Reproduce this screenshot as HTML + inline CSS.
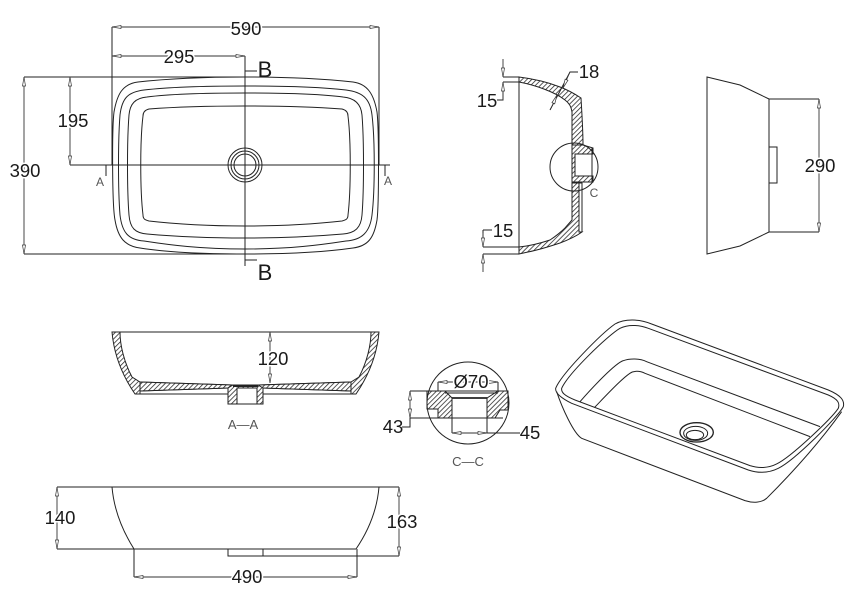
<!DOCTYPE html>
<html><head><meta charset="utf-8"><style>
html,body{margin:0;padding:0;background:#fff;width:860px;height:598px;overflow:hidden}
svg{display:block}
text{font-family:"Liberation Sans",sans-serif;fill:#1a1a1a;text-anchor:middle}
.d{font-size:18.5px}
.g{font-size:12px;fill:#555}
.l{fill:none;stroke:#222;stroke-width:1}
.m{fill:none;stroke:#333;stroke-width:.9;marker-start:url(#a);marker-end:url(#a)}
.n{marker-start:none}
.h{fill:url(#hatch);stroke:#222;stroke-width:1}
.w{paint-order:stroke;stroke:#fff;stroke-width:3px}
</style></head><body>
<svg width="860" height="598" viewBox="0 0 860 598" xmlns="http://www.w3.org/2000/svg">
<defs>
<marker id="a" markerUnits="userSpaceOnUse" markerWidth="11" markerHeight="5" refX="10" refY="2.5" orient="auto-start-reverse"><path d="M10 2.5L1 1V4Z" fill="#fff" stroke="#333" stroke-width=".7"/></marker>
<pattern id="hatch" patternUnits="userSpaceOnUse" width="3.4" height="3.4" patternTransform="rotate(45)"><rect width="3.4" height="3.4" fill="#fff"/><line x1="0" y1="0" x2="0" y2="3.4" stroke="#222" stroke-width="1.5"/></pattern>
</defs>

<!-- Top view -->
<g class="l">
<path class="l" d="M245 77C290 77 325 79 353 82C368 84 374 95 377 112C379 128 379 205 377 220C374 238 368 246 353 248C325 252 290 254 245 254C200 254 165 252 140 248C125 246 118 238 115 220C112 205 112 128 114 112C117 95 122 84 138 82C165 79 200 77 245 77Z"/>
<path class="l" d="M245 86C290 86 320 87 346 90C362 92 370 98 372 115C375 140 375 190 372 215C370 232 362 240 346 241C320 245 290 249 245 249C200 249 170 245 144 241C128 240 122 232 120 215C118 190 118 140 120 115C122 98 128 92 144 90C170 87 200 86 245 86Z"/>
<path class="l" d="M245 93C290 93 320 94 343 97C355 98 361 104 362 115C364 140 364 190 362 215C361 228 355 233 343 234C320 236 290 238 245 238C200 238 170 236 147 234C135 233 130 228 129 215C127 190 127 140 129 115C130 104 135 98 147 97C170 94 200 93 245 93Z"/>
<path class="l" d="M245 106C285 106 315 107 342 109C346 110 348 112 348 116C351 140 351 190 348 215C348 219 346 220 342 221C315 224 285 226 245 226C205 226 175 224 149 221C145 220 143 219 143 215C140 190 140 140 143 116C143 112 145 110 149 109C175 107 205 106 245 106Z"/>
<circle cx="245" cy="165" r="17"/><circle cx="245" cy="165" r="14"/><circle cx="245" cy="165" r="11"/>
<path d="M245 56V266M70 165H390M112 27V165M379 27V165M24 77H245M24 254H245M245 71H257M245 260H257M106 165V176M385 165V176"/>
</g>
<path class="m" d="M112 27H379"/>
<path class="m" d="M112 56H245"/>
<path class="m" d="M24 77V254"/>
<path class="m" d="M70 77V165"/>
<text class="d w" x="246" y="35">590</text>
<text class="d w" x="179" y="63">295</text>
<text class="d w" x="73" y="127">195</text>
<text class="d w" x="25" y="177">390</text>
<text x="265" y="77" font-size="22">B</text>
<text x="265" y="280" font-size="22">B</text>
<text class="g" x="100" y="186">A</text>
<text class="g" x="388" y="185">A</text>

<!-- Section B-B -->
<path class="h" d="M519 77C535 79 550 83 560 87C568 90 575 94 581 98C582 115 583 130 583 145H572V112C571 106 569 103 565 100C555 92 535 85 519 82Z"/>
<path class="h" d="M572 183H579V232H582C575 237 568 240 560 243C548 247 538 250 528 252L519 254V247C530 246 541 243 550 240C556 236 561 232 565 228L572 220Z"/>
<path class="l" d="M519 77V254"/>
<path class="l" d="M579 183H582V232"/>
<path class="h" d="M572 145H583L593 148V154H575V176H593V182H572Z"/>
<path class="l" d="M575 154H592V176H575Z"/>
<path class="l" d="M592 148V182"/>
<circle class="l" cx="574" cy="167" r="24"/>
<path class="l" d="M503 77H519M503 82H519M503 82V100H497M483 247H519M483 230V247M483 230H492M483 254H519M578 72H570L550 110"/>
<path class="m n" d="M503 59V77"/>
<path class="m n" d="M503 100V82"/>
<path class="m n" d="M483 233V247"/>
<path class="m n" d="M483 272V254"/>
<path class="m n" d="M569 74L563 88"/>
<path class="m n" d="M553 104L557 95"/>
<text class="d" x="487" y="107">15</text>
<text class="d" x="503" y="237">15</text>
<text class="d" x="589" y="78">18</text>
<text class="g" x="594" y="197">C</text>

<!-- Side view -->
<path class="l" d="M707 77L740 85L769 99V232L740 246L707 254ZM769 147H777V183H769M769 99H819M769 232H819"/>
<path class="m" d="M819 99V232"/>
<text class="d w" x="820" y="172">290</text>

<!-- Section A-A -->
<path class="l" d="M112 332H379"/>
<path class="h" d="M112 332H120C120 345 124 362 132 377L140 382L232 385V388H228L140 391L140 394H135C122 375 114 355 112 332Z"/>
<path class="h" d="M379 332H371C371 345 367 362 359 377L351 382L259 385V388H263L351 391L351 394H356C369 375 377 355 379 332Z"/>
<path class="h" d="M140 382L232 385H259L351 382L351 391L263 388H228L140 391Z"/>
<path class="h" d="M228 388L233 385H258L263 388V404H228Z"/>
<rect x="237" y="388" width="20" height="16" fill="#fff" stroke="#222"/>
<path fill="none" stroke="#222" stroke-width="2" d="M233 386H258"/>
<path class="l" d="M140 394H228M263 394H351"/>
<path class="m" d="M270 332V383"/>
<text class="d w" x="273" y="365">120</text>
<text x="243" y="429" font-size="13" style="fill:#555">A—A</text>

<!-- Detail C-C -->
<path class="h" d="M427 391H445L452 398V418H438V409H427Z"/>
<path class="h" d="M508 391H498L487 398V418H495L500 410H508Z"/>
<circle class="l" cx="468" cy="403" r="41"/>
<path class="l" d="M410 391H508M410 418H503M452 398V433M487 398V433M438 391V382M498 391V382M445 393H498M487 433H520M410 418V427H402"/>
<path fill="none" stroke="#222" stroke-width="1.8" d="M452 398H487"/>
<path class="m" d="M438 382H498"/>
<path class="m" d="M452 433H487"/>
<path class="m" d="M410 391V418"/>
<text class="d w" x="471" y="388">Ø70</text>
<text class="d" x="393" y="433">43</text>
<text class="d" x="530" y="439">45</text>
<text x="468" y="466" font-size="13" style="fill:#555">C—C</text>

<!-- Isometric -->
<g transform="translate(545 310) scale(.3333)" fill="none" stroke="#222" stroke-width="3">
<path d="M32 235C50 190 170 70 210 42C240 25 285 27 320 42L850 240C885 255 900 270 895 290C880 320 750 450 700 475C670 490 640 490 610 480L80 280C50 265 30 250 32 235Z"/>
<path d="M50 235C70 190 190 75 225 55C250 42 285 45 310 55L850 255C880 268 885 280 880 295C860 325 740 440 695 462C670 475 640 475 615 467L90 270C60 258 48 248 50 235Z"/>
<path d="M105 275C140 235 210 160 235 152C255 145 285 145 305 155L825 350"/>
<path d="M148 293C180 260 240 195 262 186C275 182 290 185 300 190L795 380"/>
<path d="M35 245C50 290 85 370 110 385L600 572C625 580 650 578 665 565C690 540 800 430 890 305"/>
<ellipse cx="455" cy="367" rx="50" ry="29" stroke-width="4"/>
<ellipse cx="452" cy="370" rx="36" ry="21"/>
<ellipse cx="450" cy="375" rx="26" ry="14"/>
</g>

<!-- Front view -->
<path class="l" d="M57 487H399M57 549H356M112 487C114 510 122 530 134 549M379 487C377 510 369 530 356 549M228 549V556H399M263 549V556M134 549V577M357 549V577"/>
<path class="m" d="M57 487V549"/>
<path class="m" d="M399 487V556"/>
<path class="m" d="M134 577H357"/>
<text class="d w" x="60" y="524">140</text>
<text class="d w" x="402" y="528">163</text>
<text class="d w" x="247" y="583">490</text>
</svg>
</body></html>
